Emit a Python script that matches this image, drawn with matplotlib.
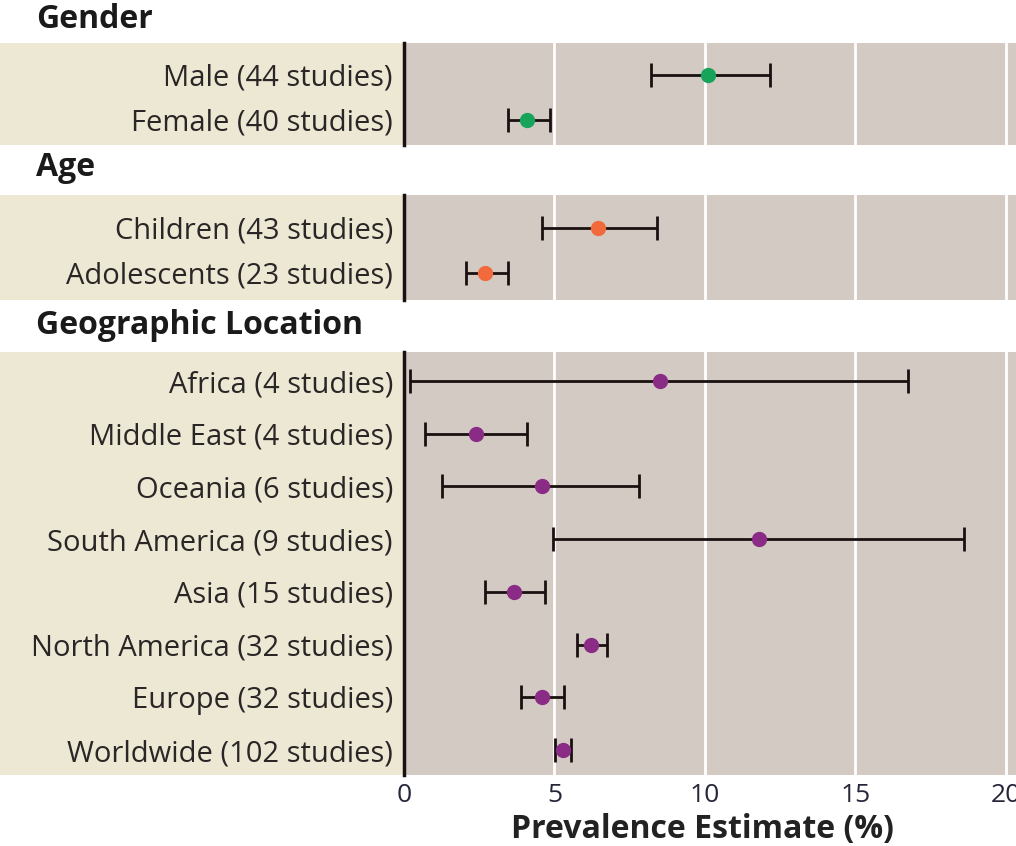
import numpy as np
import matplotlib.pyplot as plt
from matplotlib.patches import Rectangle

plt.rcParams['font.family'] = ['Open Sans', 'DejaVu Sans']

# Gender
gender_labels = ["Male (44 studies)", "Female (40 studies)"]
gender_est = [10.1, 4.1]
gender_lo = [8.2, 3.45]
gender_hi = [12.15, 4.85]

# Age
age_labels = ["Children (43 studies)", "Adolescents (23 studies)"]
age_est = [6.45, 2.7]
age_lo = [4.6, 2.05]
age_hi = [8.4, 3.45]

# Geographic location
geo_labels = ["Africa (4 studies)", "Middle East (4 studies)", "Oceania (6 studies)",
              "South America (9 studies)", "Asia (15 studies)", "North America (32 studies)",
              "Europe (32 studies)", "Worldwide (102 studies)"]
geo_est = [8.5, 2.4, 4.6, 11.8, 3.65, 6.2, 4.6, 5.29]
geo_lo = [0.2, 0.7, 1.25, 4.95, 2.7, 5.75, 3.9, 5.01]
geo_hi = [16.75, 4.1, 7.8, 18.6, 4.7, 6.75, 5.3, 5.56]

W, H = 1016, 846
fig = plt.figure(figsize=(W / 100, H / 100), dpi=100)

x0 = 404      # left edge of plot area in pixels
x1 = 1018     # right edge (slightly past figure edge)
xmax = 20.4

plot_bg = "#d4cac4"
label_bg = "#ece8d4"


def panel(top, bottom, labels, est, lo, hi, color, pad_top, pad_bot, title, title_y, last=False):
    # beige label strip
    fig.patches.append(Rectangle((0, 1 - bottom / H), x0 / W, (bottom - top) / H,
                                 transform=fig.transFigure, facecolor=label_bg,
                                 edgecolor="none", zorder=-5))
    ax = fig.add_axes([x0 / W, 1 - bottom / H, (x1 - x0) / W, (bottom - top) / H])
    ax.set_facecolor(plot_bg)
    y = np.arange(len(labels))
    est = np.array(est)
    err = [est - np.array(lo), np.array(hi) - est]
    ax.errorbar(est, y, xerr=err, fmt="none", ecolor="#1a1010", elinewidth=2,
                capsize=8.5, capthick=2, zorder=3)
    ax.plot(est, y, "o", color=color, ms=10, zorder=4)
    for v in [5, 10, 15, 20]:
        ax.axvline(v, color="white", lw=2, zorder=1)
    ax.set_xlim(0, xmax)
    ax.set_ylim(len(labels) - 1 + pad_bot, -pad_top)
    ax.set_yticks(y)
    ax.set_yticklabels(labels, fontsize=21, color="#2a2626")
    ax.tick_params(axis="y", length=0, pad=8)
    for s in ["top", "right", "bottom"]:
        ax.spines[s].set_visible(False)
    ax.spines["left"].set_color("#1a1010")
    ax.spines["left"].set_linewidth(2.5)
    if last:
        ax.set_xticks([0, 5, 10, 15, 20])
        ax.tick_params(axis="x", length=0, pad=6, labelsize=19, labelcolor="#26263a")
        ax.set_xlabel("Prevalence Estimate (%)", fontsize=23, fontweight="bold",
                      color="#222222")
        ax.xaxis.set_label_coords((702 - x0) / (x1 - x0), -0.09)
    else:
        ax.set_xticks([])
    fig.text(36 / W, 1 - title_y / H, title, fontsize=23, fontweight="bold",
             color="#1a1a1a", va="center", ha="left")
    return ax


panel(43, 145, gender_labels, gender_est, gender_lo, gender_hi, "#17a45a",
      0.71, 0.56, "Gender", 20)
panel(195, 300, age_labels, age_est, age_lo, age_hi, "#f26a3c",
      0.73, 0.6, "Age", 167)
panel(352, 775, geo_labels, geo_est, geo_lo, geo_hi, "#8a2c86",
      0.55, 0.47, "Geographic Location", 325, last=True)

fig.savefig("out.png", dpi=100)
